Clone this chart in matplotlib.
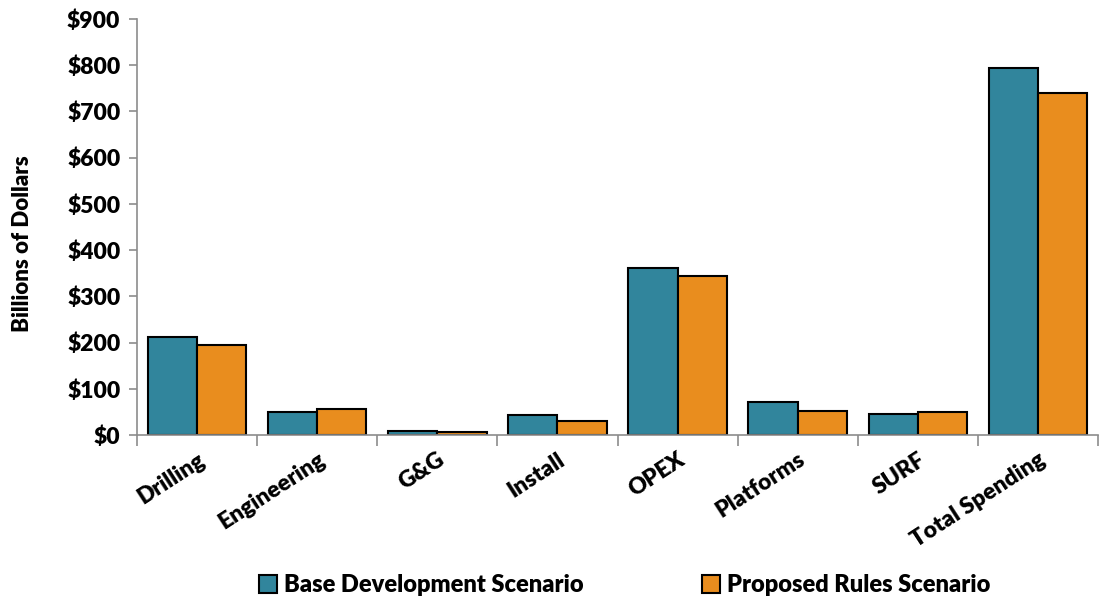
import matplotlib.pyplot as plt
import numpy as np
from matplotlib.ticker import FuncFormatter, FixedLocator

plt.rcParams['font.family'] = ['Lato', 'DejaVu Sans']
plt.rcParams['font.weight'] = 'heavy'
plt.rcParams['axes.labelweight'] = 'heavy'

# данные
categories = ['Drilling', 'Engineering', 'G&G', 'Install', 'OPEX',
              'Platforms', 'SURF', 'Total Spending']
base_dev = [212, 50, 9, 43, 361, 72, 46, 795]
proposed = [195, 56, 7, 31, 344, 52, 50, 739]
series_names = ['Base Development Scenario', 'Proposed Rules Scenario']

teal = '#31859C'
orange = '#E98D1E'
grey = '#8C8C8C'

fig = plt.figure(figsize=(11, 6.02), dpi=100)
ax = fig.add_axes([137 / 1100, 1 - 435 / 602, 961 / 1100, 416 / 602])

x = np.arange(len(categories))
w = 0.41
ax.bar(x - w / 2, base_dev, w, color=teal, edgecolor='black', linewidth=1.5,
       label=series_names[0])
ax.bar(x + w / 2, proposed, w, color=orange, edgecolor='black', linewidth=1.5,
       label=series_names[1])

ax.set_xlim(-0.5, len(categories) - 0.5)
ax.set_ylim(0, 900)
ax.set_yticks(np.arange(0, 901, 100))
ax.yaxis.set_major_formatter(FuncFormatter(lambda v, p: f'${v:.0f}'))
ax.tick_params(axis='y', labelsize=16.5, length=6, color=grey, width=1.2, pad=6)

ax.set_xticks(x)
ax.set_xticklabels(categories, rotation=33, ha='right',
                   rotation_mode='anchor', fontsize=16.5)
ax.tick_params(axis='x', length=0, pad=10)
ax.xaxis.set_minor_locator(FixedLocator(np.arange(-0.5, len(categories), 1.0)))
ax.tick_params(axis='x', which='minor', length=8, color=grey, width=1.2)

for s in ['top', 'right']:
    ax.spines[s].set_visible(False)
for s in ['left', 'bottom']:
    ax.spines[s].set_color(grey)
    ax.spines[s].set_linewidth(1.2)

ax.set_ylabel('Billions of Dollars', fontsize=16)
ax.yaxis.set_label_coords(-0.108, 0.46)

fig.legend(loc='center', bbox_to_anchor=(0.568, 0.028), ncol=2, frameon=False,
           fontsize=17, handlelength=0.75, handleheight=0.75, handletextpad=0.3,
           columnspacing=5.0)

fig.savefig('out.png', dpi=100)
